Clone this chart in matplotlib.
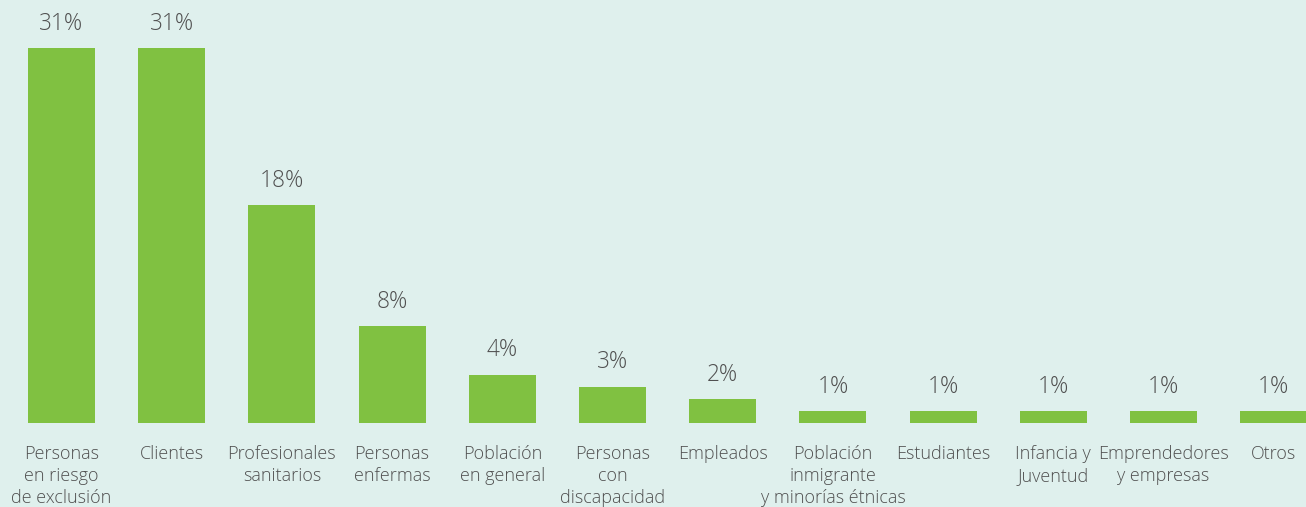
import matplotlib
matplotlib.use("Agg")
import matplotlib.pyplot as plt
import numpy as np

categories = [
    "Personas\nen riesgo\nde exclusión",
    "Clientes",
    "Profesionales\nsanitarios",
    "Personas\nenfermas",
    "Población\nen general",
    "Personas\ncon\ndiscapacidad",
    "Empleados",
    "Población\ninmigrante\ny minorías étnicas",
    "Estudiantes",
    "Infancia y\nJuventud",
    "Emprendedores\ny empresas",
    "Otros",
]
values = [31, 31, 18, 8, 4, 3, 2, 1, 1, 1, 1, 1]
value_labels = ["31%", "31%", "18%", "8%", "4%", "3%", "2%", "1%", "1%", "1%", "1%", "1%"]

BG = "#dff0ed"
GREEN = "#80c141"
TXT = "#505050"

plt.rcParams['font.family'] = ['Open Sans', 'DejaVu Sans']

W, H = 1306, 507
fig = plt.figure(figsize=(W / 100, H / 100), dpi=100)
fig.patch.set_facecolor(BG)
ax = fig.add_axes([0, (H - 423) / H, 1, 423 / H])
ax.set_facecolor(BG)

x = np.arange(len(categories))
bars = ax.bar(x, values, width=0.608, color=GREEN)

spacing = 110.2
ax.set_xlim(-61.5 / spacing, (W - 61.5) / spacing)
ax.set_ylim(0, 31 * 423 / 375)

for xi, v, lab in zip(x, values, value_labels):
    ax.annotate(lab, (xi, v), xytext=(0, 17.5), textcoords="offset points",
                ha="center", va="center", fontsize=16.3, color=TXT, fontweight="light")

ax.set_xticks(x)
ax.set_xticklabels(categories, fontsize=13.0, color=TXT, fontweight="light", linespacing=1.3)
ax.tick_params(axis="x", length=0, pad=15.5)
ax.set_yticks([])
for s in ax.spines.values():
    s.set_visible(False)

fig.savefig("out.png", dpi=100, facecolor=BG)
